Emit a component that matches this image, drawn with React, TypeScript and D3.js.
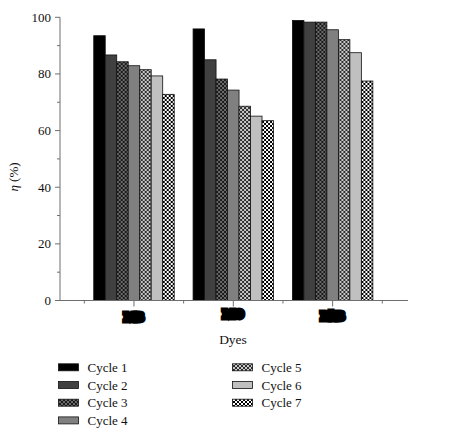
import React from "react";
import * as d3 from "d3";

const categories = ["MB", "MO", "RhB"];
const cycles = ["Cycle 1", "Cycle 2", "Cycle 3", "Cycle 4", "Cycle 5", "Cycle 6", "Cycle 7"];
const cycle1 = [93.5, 95.9, 98.9];
const cycle2 = [86.7, 85.0, 98.3];
const cycle3 = [84.3, 78.2, 98.3];
const cycle4 = [82.9, 74.3, 95.6];
const cycle5 = [81.5, 68.6, 92.1];
const cycle6 = [79.3, 65.1, 87.5];
const cycle7 = [72.8, 63.5, 77.5];
const series = [cycle1, cycle2, cycle3, cycle4, cycle5, cycle6, cycle7];
const yTicks = [0, 20, 40, 60, 80, 100];
const yMinor = [10, 30, 50, 70, 90];

const fills = ["#000000", "#404040", "url(#p3)", "#808080", "url(#p5)", "#c0c0c0", "url(#p7)"];

export default function App() {
  const W = 454, H = 439;
  const y = d3.scaleLinear().domain([0, 100]).range([300.5, 17.3]);
  const x = d3.scaleBand<string>().domain(categories).range([84.3, 382.3]).paddingInner(0.19).paddingOuter(0.095);
  const xi = d3.scaleBand<string>().domain(cycles).range([0, x.bandwidth()]).padding(0);
  const step = x.step();
  const minorX = [0, 1, 2, 3].map((i) => 84.3 + i * step);
  const axisColor = "#6e6e6e";
  const font = "'Liberation Serif', 'DejaVu Serif', serif";

  const pattern = (id: string, bg: string, fg: string) => (
    <pattern id={id} width={4} height={4} patternUnits="userSpaceOnUse">
      <rect width={4} height={4} fill={bg} />
      <path d="M0,0 L4,4 M4,0 L0,4" stroke={fg} strokeWidth={1} />
    </pattern>
  );

  return (
    <svg width={W} height={H} style={{ position: "absolute", left: 0, top: 0 }} fontFamily={font}>
      <defs>
        {pattern("p3", "#6a6a6a", "#1a1a1a")}
        {pattern("p5", "#c8c8c8", "#303030")}
        {pattern("p7", "#ffffff", "#000000")}
      </defs>
      {categories.map((c, ci) => (
        <g key={c} transform={`translate(${x(c)},0)`}>
          {cycles.map((cy, si) => (
            <rect
              key={cy}
              x={xi(cy)}
              y={y(series[si][ci])}
              width={xi.bandwidth()}
              height={y(0) - y(series[si][ci])}
              fill={fills[si]}
              stroke="#111"
              strokeWidth={0.8}
            />
          ))}
        </g>
      ))}
      <line x1={60} x2={60} y1={y(100)} y2={y(0)} stroke={axisColor} strokeWidth={1} />
      {yTicks.map((t) => (
        <g key={t}>
          <line x1={55} x2={60} y1={y(t)} y2={y(t)} stroke={axisColor} />
          <text x={51} y={y(t)} dy="0.35em" textAnchor="end" fontSize={13} fill="#111">
            {t}
          </text>
        </g>
      ))}
      {yMinor.map((t) => (
        <line key={t} x1={57} x2={60} y1={y(t)} y2={y(t)} stroke={axisColor} />
      ))}
      <text transform={`translate(18,177) rotate(-90)`} textAnchor="middle" fontSize={13} fill="#111">
        <tspan fontStyle="italic">η</tspan> (%)
      </text>
      <line x1={60} x2={408} y1={y(0)} y2={y(0)} stroke={axisColor} strokeWidth={1} />
      {categories.map((c) => (
        <line key={c} x1={x(c)! + x.bandwidth() / 2} x2={x(c)! + x.bandwidth() / 2} y1={y(0)} y2={y(0) + 6} stroke={axisColor} />
      ))}
      {minorX.map((m, i) => (
        <line key={i} x1={m} x2={m} y1={y(0)} y2={y(0) + 3} stroke={axisColor} />
      ))}
      {categories.map((c, i) => (
        <text
          key={c}
          x={x(c)! + x.bandwidth() / 2}
          y={[321, 317.5, 319.5][i]}
          textAnchor="middle"
          fontSize={12}
          fontWeight="bold"
          fill="#000"
          stroke="#000"
          strokeWidth={5}
          strokeLinejoin="miter"
        >
          {c}
        </text>
      ))}
      <text x={233} y={344} textAnchor="middle" fontSize={13.5} fill="#111">
        Dyes
      </text>
      {cycles.map((cy, i) => {
        const col = i < 4 ? 0 : 1;
        const row = i < 4 ? i : i - 4;
        const lx = col === 0 ? 58.5 : 232.5;
        const ly = 367.3 + row * 17.7;
        return (
          <g key={cy}>
            <rect x={lx} y={ly - 3.5} width={20} height={7} fill={fills[i]} stroke="#111" strokeWidth={0.8} />
            <text x={lx + 29} y={ly} dy="0.35em" fontSize={13} fill="#111">
              {cy}
            </text>
          </g>
        );
      })}
    </svg>
  );
}
